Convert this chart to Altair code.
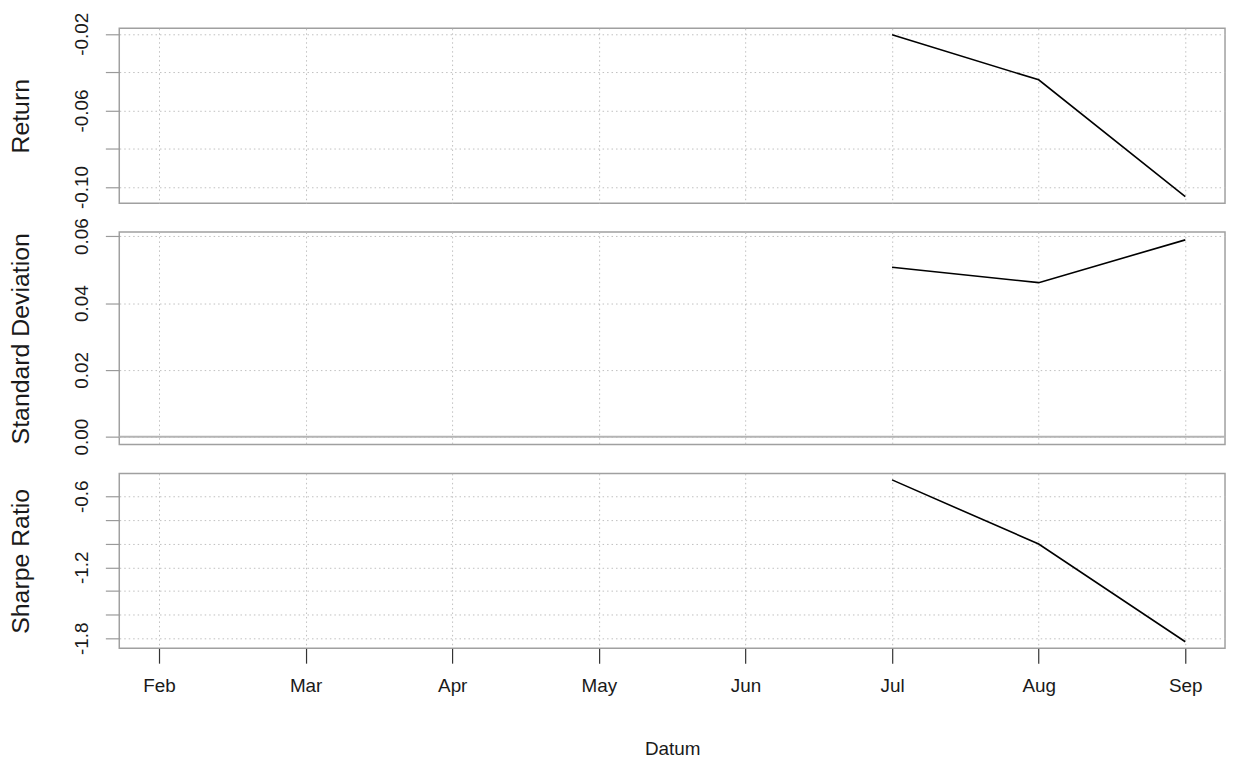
import json
import altair as alt
import pandas as pd

# ---- data ----
MONTHS = ["Feb", "Mar", "Apr", "May", "Jun", "Jul", "Aug", "Sep"]
DATES = ["Jul", "Aug", "Sep"]
RETURN = [-0.0205, -0.0440, -0.1050]
STDDEV = [0.0507, 0.0461, 0.0589]
SHARPE = [-0.461, -1.003, -1.829]
ZERO_LINE = [0.0]

RET_TICKS = [-0.02, -0.04, -0.06, -0.08, -0.10]
RET_LABELS = ["-0.02", "", "-0.06", "", "-0.10"]
STD_TICKS = [0.00, 0.01, 0.02, 0.03, 0.04, 0.05, 0.06]
STD_LABELS = ["0.00", "", "0.02", "", "0.04", "", "0.06"]
SHR_TICKS = [-0.6, -0.8, -1.0, -1.2, -1.4, -1.6, -1.8]
SHR_LABELS = ["-0.6", "", "", "-1.2", "", "", "-1.8"]

FONT = "Liberation Sans"
W = 1113
GRID = dict(grid=True, gridColor="#bfbfbf", gridDash=[1.5, 3], gridWidth=1)


def r_domain(vals):
    lo, hi = min(vals), max(vals)
    d = (hi - lo) * 0.04
    return [lo - d, hi + d]


def y_axis(title, ticks, labels, h):
    expr = f"{json.dumps(labels)}[indexof({json.dumps(ticks)}, datum.value)]"
    return alt.Axis(
        values=ticks, labelExpr=expr, tickSize=14, tickColor="#9a9a9a", tickWidth=1.2,
        domain=False, labelAngle=270, labelAlign="center", labelBaseline="alphabetic",
        labelPadding=18, labelFontSize=19, labelFont=FONT, labelColor="#1a1a1a",
        labelFlush=False, labelOverlap=False,
        title=title, titleFontSize=25, titleFont=FONT, titleFontWeight="normal",
        titleColor="#1a1a1a", titleAngle=270, titleAlign="center",
        titleBaseline="alphabetic", titleX=-91, titleY=h / 2, **GRID)


def x_axis(bottom):
    if bottom:
        return alt.Axis(
            domain=False, ticks=True, tickSize=15, tickColor="#333333", tickWidth=1.2,
            labels=True, labelAngle=0, labelFontSize=19, labelFont=FONT,
            labelColor="#1a1a1a", labelPadding=14, labelBaseline="top",
            title="Datum", titleFontSize=19, titleFont=FONT, titleFontWeight="normal",
            titleColor="#1a1a1a", titleBaseline="top", titleY=92, **GRID)
    return alt.Axis(domain=False, ticks=False, labels=False, title=None, **GRID)


def panel(values, title, ticks, labels, h, bottom=False, zero=False):
    df = pd.DataFrame({"month": DATES, "value": values})
    x = alt.X("month:O", sort=MONTHS,
              scale=alt.Scale(type="point", domain=MONTHS, padding=0.271),
              axis=x_axis(bottom))
    y = alt.Y("value:Q", scale=alt.Scale(domain=r_domain(values + ([0.0] if zero else [])),
                                          nice=False, zero=False),
              axis=y_axis(title, ticks, labels, h))
    line = alt.Chart(df).mark_line(color="black", strokeWidth=1.6).encode(x=x, y=y)
    layers = [line]
    if zero:
        zdf = pd.DataFrame({"z": ZERO_LINE})
        rule = alt.Chart(zdf).mark_rule(color="#b4b4b4", strokeWidth=2).encode(y="z:Q")
        layers = [rule, line]
    return alt.layer(*layers).properties(width=W, height=h)


p1 = panel(RETURN, "Return", RET_TICKS, RET_LABELS, 176)
p2 = panel(STDDEV, "Standard Deviation", STD_TICKS, STD_LABELS, 214, zero=True)
p3 = panel(SHARPE, "Sharpe Ratio", SHR_TICKS, SHR_LABELS, 176, bottom=True)

chart = alt.vconcat(p1, p2, p3, spacing=29, bounds="flush").properties(
    padding={"left": 0, "top": 1, "right": 1, "bottom": -4},
    background="white",
).configure_view(stroke="#a0a0a0", strokeWidth=1.5)

chart.save("out.html", embed_options={"renderer": "svg", "actions": False})
